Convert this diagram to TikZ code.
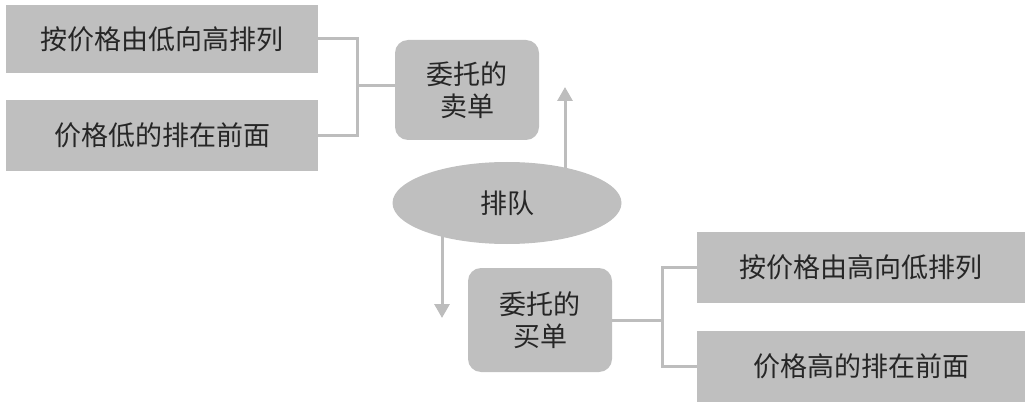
\documentclass[tikz,border=0pt]{standalone}
\usepackage{fontspec}
\newfontfamily\cjk{Noto Sans CJK SC}
\usetikzlibrary{arrows.meta,shapes.geometric}
\definecolor{boxgray}{HTML}{BFBFBF}
\definecolor{linegray}{HTML}{BDBDBD}
\definecolor{txt}{HTML}{262626}
\tikzset{
  x=1pt,y=-1pt,
  base/.style={fill=boxgray,draw=none,inner sep=0pt,text=txt,align=center,
    font=\cjk\fontsize{27}{32}\selectfont},
  rectbox/.style={base,rectangle},
  roundbox/.style={base,rectangle,rounded corners=13pt},
  ovalbox/.style={base,ellipse},
  conn/.style={draw=linegray,line width=3pt},
  arr/.style={conn,-{Triangle[width=15pt,length=14pt]}},
}
\begin{document}
\begin{tikzpicture}
\useasboundingbox (0,0) rectangle (1030,406);
% arrows drawn first so the ellipse covers their start
\coordinate (upEnd) at (565,87);
\coordinate (downEnd) at (442,318);
\coordinate (ellc) at (507,203);
\draw[arr] (ellc -| upEnd) -- (upEnd);
\draw[arr] (ellc -| downEnd) -- (downEnd);
% nodes
\node[rectbox,minimum width=312pt,minimum height=68pt] (b1) at (162,39) {按价格由低向高排列};
\node[rectbox,minimum width=312pt,minimum height=71pt] (b2) at (162,135.5) {价格低的排在前面};
\node[roundbox,minimum width=144pt,minimum height=100pt] (sell) at (467,90) {委托的\\卖单};
\node[ovalbox,minimum width=229pt,minimum height=82pt] (ell) at (ellc) {排队};
\node[roundbox,minimum width=144pt,minimum height=104pt] (buy) at (540,320) {委托的\\买单};
\node[rectbox,minimum width=328pt,minimum height=71pt] (r1) at (861,267) {按价格由高向低排列};
\node[rectbox,minimum width=328pt,minimum height=71pt] (r2) at (861,366) {价格高的排在前面};
% brackets
\coordinate (jL) at (357,86);
\coordinate (jR) at (662,320);
\draw[conn] (b1.east) -| (jL) |- (b2.east);
\draw[conn] (jL) -- (jL -| sell.west);
\draw[conn] (buy.east) -- (jR);
\draw[conn] (r1.west) -| (jR) |- (r2.west);
\end{tikzpicture}
\end{document}
